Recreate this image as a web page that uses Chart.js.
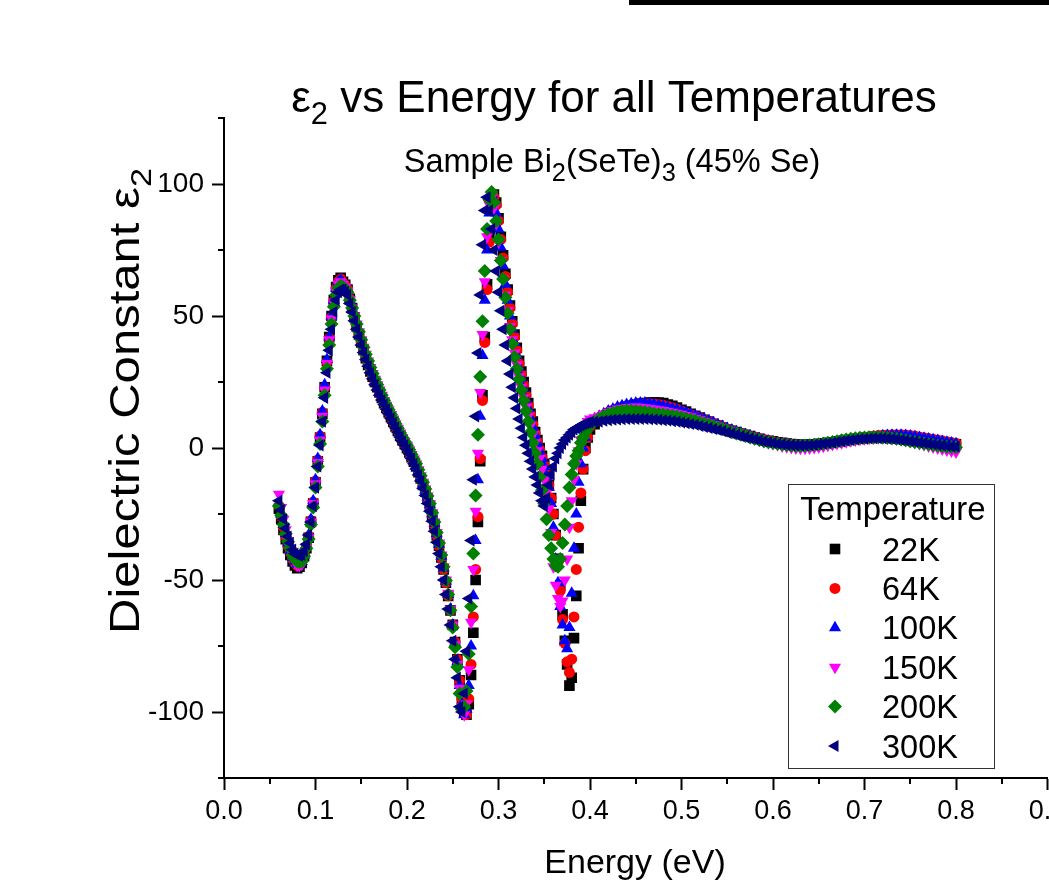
<!DOCTYPE html>
<html>
<head>
<meta charset="utf-8">
<script src="https://cdn.jsdelivr.net/npm/chart.js@4.4.0/dist/chart.umd.min.js"></script>
<style>
  html, body { margin: 0; padding: 0; background: #fff; overflow: hidden; }
  #wrap { position: relative; width: 1100px; height: 887px; }
  #bar { position: absolute; left: 629px; top: 0; width: 471px; height: 5px; background: #000; }
</style>
</head>
<body>
<div id="wrap"><canvas id="c"></canvas><div id="bar"></div></div>
<script>
/* ─── eps2 vs energy, Bi2(SeTe)3 45% Se ───────────────────────── */

// energy grid (eV), shared by every temperature
const ENERGY = [
  0.0600, 0.0625, 0.0650, 0.0675, 0.0700, 0.0725, 0.0750, 0.0775, 0.0800, 0.0825, 0.0850,
  0.0875, 0.0900, 0.0925, 0.0950, 0.0975, 0.1000, 0.1025, 0.1050, 0.1075, 0.1100, 0.1125, 0.1150, 0.1175, 0.1200, 0.1225, 0.1250, 0.1275, 0.1300,
  0.1325, 0.1350, 0.1375, 0.1400, 0.1425, 0.1450, 0.1475, 0.1500, 0.1525, 0.1550,
  0.1575, 0.1600, 0.1625, 0.1650, 0.1675, 0.1700, 0.1725, 0.1750, 0.1775, 0.1800,
  0.1825, 0.1850, 0.1875, 0.1900, 0.1925, 0.1950, 0.1975, 0.2000, 0.2025, 0.2050,
  0.2075, 0.2100, 0.2125, 0.2150, 0.2175, 0.2200, 0.2225, 0.2250, 0.2275, 0.2300,
  0.2325, 0.2350, 0.2375, 0.2400, 0.2425, 0.2450, 0.2475, 0.2500, 0.2525, 0.2550,
  0.2575, 0.2600, 0.2625, 0.2650, 0.2675, 0.2700, 0.2725, 0.2750, 0.2775, 0.2800, 0.2825, 0.2850, 0.2875, 0.2900, 0.2925, 0.2950, 0.2975, 0.3000,
  0.3025, 0.3050, 0.3075, 0.3100, 0.3125, 0.3150, 0.3175, 0.3200, 0.3225, 0.3250, 0.3275, 0.3300, 0.3325, 0.3350, 0.3375, 0.3400, 0.3425, 0.3450, 0.3475, 0.3500,
  0.3525, 0.3550, 0.3575, 0.3600, 0.3625, 0.3650, 0.3675, 0.3700, 0.3725, 0.3750, 0.3775, 0.3800, 0.3825, 0.3850, 0.3875, 0.3900, 0.3925, 0.3950, 0.3975, 0.4000,
  0.405, 0.410, 0.415, 0.420, 0.425, 0.430, 0.435, 0.440, 0.445, 0.450,
  0.455, 0.460, 0.465, 0.470, 0.475, 0.480, 0.485, 0.490, 0.495, 0.500,
  0.505, 0.510, 0.515, 0.520, 0.525, 0.530, 0.535, 0.540, 0.545, 0.550,
  0.555, 0.560, 0.565, 0.570, 0.575, 0.580, 0.585, 0.590, 0.595, 0.600,
  0.605, 0.610, 0.615, 0.620, 0.625, 0.630, 0.635, 0.640, 0.645, 0.650,
  0.655, 0.660, 0.665, 0.670, 0.675, 0.680, 0.685, 0.690, 0.695, 0.700,
  0.705, 0.710, 0.715, 0.720, 0.725, 0.730, 0.735, 0.740, 0.745, 0.750,
  0.755, 0.760, 0.765, 0.770, 0.775, 0.780, 0.785, 0.790, 0.795, 0.800
];

// eps2 per temperature, same order as ENERGY
const K22 = [
  -23, -27, -31, -34.5, -38, -40.5, -43, -44.5, -45.5, -45, -43.5,
  -41, -38, -34, -28, -21, -13, -5, 4, 13, 23, 33, 42, 50, 56, 61, 63.5, 64.5, 63,
  61.8, 60, 56.5, 53, 49.5, 46, 43, 40, 37, 34,
  31.5, 29, 27, 25, 23, 21, 19, 17, 15.2, 13.5,
  11.7, 10, 8.2, 6.5, 4.7, 3, 1.5, 0, -1.7, -3.5,
  -5.2, -7, -9.2, -11.5, -14, -16.5, -19.2, -22, -25.5, -29,
  -33, -37, -41.5, -46, -51, -56, -61.5, -67, -73.5, -80,
  -88, -95, -100, -101, -97, -86, -70, -50, -28, -5, 20, 42, 62, 80, 92, 96, 93, 87,
  80, 73, 66, 60, 54, 48, 43, 38, 33, 29, 25, 21, 17, 13, 10, 6, 3, 0, -3, -6,
  -10, -14, -19, -25, -33, -42, -52, -63, -73, -82, -90, -87, -72, -56, -38, -20, -8, 0, 4, 7,
  9, 11, 12, 13, 13.8, 14.5, 15, 15.5, 16, 16.5,
  16.8, 17, 17.2, 17.3, 17.2, 17, 16.5, 16, 15.3, 14.5,
  13.8, 13, 12.2, 11.5, 10.7, 10, 9.2, 8.5, 7.7, 7,
  6.5, 6, 5.5, 5, 4.5, 4, 3.5, 3, 2.7, 2.5,
  2.2, 2, 1.7, 1.5, 1.3, 1.2, 1.2, 1.3, 1.4, 1.6,
  1.8, 2, 2.2, 2.5, 2.7, 3, 3.2, 3.5, 3.7, 3.9,
  4, 4.2, 4.3, 4.4, 4.4, 4.4, 4.3, 4.2, 4, 3.8,
  3.5, 3.3, 3, 2.8, 2.5, 2.3, 2, 1.8, 1.6, 1.4
];
const K64 = [
  -22, -26, -30, -33.5, -37, -39.5, -42, -43.5, -44.5, -44, -43,
  -40.5, -37.5, -33.5, -27.5, -20.5, -12.5, -4.5, 4.5, 13.5, 23, 32.5, 41.5, 49.5, 55.5, 60.5, 63, 64, 62.5,
  61.5, 60, 56.5, 53, 49.5, 46, 43, 40, 37.2, 34.5,
  32, 29.5, 27.2, 25, 23, 21, 19, 17, 15.2, 13.5,
  11.7, 10, 8.2, 6.5, 4.7, 3, 1.5, 0, -1.7, -3.5,
  -5.2, -7, -9.2, -11.5, -14, -16.5, -19.2, -22, -25.5, -29,
  -33, -37, -41.5, -46, -51, -56, -61.5, -67, -73.5, -80,
  -88, -95, -100, -101, -95, -82, -64, -46, -26, -4, 18, 40, 60, 78, 90, 95, 92, 86,
  79, 72, 65, 59, 53, 47, 42, 37, 32, 28, 24, 20, 16, 12.5, 9, 5.5, 2.5, -0.5, -3.5, -6.5,
  -10, -14, -19, -25, -33, -43, -54, -65, -74, -81, -85, -80, -64, -46, -30, -17, -8, -1, 4, 8,
  10, 11.5, 12.5, 13.5, 14.3, 15, 15.5, 16, 16.3, 16.5,
  16.7, 16.8, 16.8, 16.7, 16.5, 16.2, 15.8, 15.3, 14.7, 14,
  13.3, 12.7, 12, 11.3, 10.7, 10, 9.3, 8.6, 7.9, 7.2,
  6.6, 6, 5.5, 5, 4.5, 4, 3.6, 3.2, 2.8, 2.5,
  2.1, 1.8, 1.5, 1.3, 1.1, 1, 1, 1, 1.1, 1.3,
  1.5, 1.8, 2.1, 2.4, 2.7, 3, 3.3, 3.6, 3.9, 4.1,
  4.3, 4.5, 4.7, 4.8, 4.9, 5, 5, 5, 4.9, 4.7,
  4.5, 4.2, 3.9, 3.6, 3.3, 3, 2.7, 2.4, 2.1, 1.8
];
const K100 = [
  -21, -25, -29, -32.5, -36, -39, -41.5, -43, -44, -44, -43,
  -40.5, -37, -33, -27, -20, -12, -4, 5, 14, 24, 33.5, 42, 50, 56, 60.5, 63, 63.5, 62.5,
  61.2, 59.5, 56, 52.5, 49.2, 46, 43, 40, 37.2, 34.5,
  32, 29.5, 27.2, 25, 23, 21, 19.2, 17.5, 15.7, 14,
  12.2, 10.5, 8.7, 7, 5.2, 3.5, 2, 0.5, -1.2, -3,
  -4.7, -6.5, -8.7, -11, -13.5, -16, -18.7, -21.5, -25, -28.5,
  -32.5, -36.5, -41, -45.5, -50.5, -55.5, -61, -67, -74, -81,
  -90, -97, -101, -99, -90, -75, -56, -35, -12, 12, 35, 56, 75, 89, 96, 94, 89, 83,
  76, 69, 62, 56, 50, 45, 40, 35, 30.5, 26.5, 22.5, 18.5, 15, 11.5, 8, 5, 2, -1, -4, -7,
  -10.5, -15, -21, -30, -42, -51, -60, -67, -73, -76, -68, -55, -38, -25, -13, -6, 0, 4, 8, 10,
  11, 12, 13, 14, 14.8, 15.5, 16, 16.5, 16.8, 17,
  17, 17, 16.8, 16.5, 16.2, 15.8, 15.4, 15, 14.5, 14,
  13.4, 12.8, 12.2, 11.5, 10.9, 10.2, 9.5, 8.8, 8.1, 7.4,
  6.8, 6.2, 5.6, 5, 4.5, 4, 3.5, 3, 2.6, 2.3,
  1.9, 1.6, 1.3, 1, 0.8, 0.7, 0.7, 0.7, 0.8, 1,
  1.2, 1.5, 1.7, 2, 2.3, 2.6, 2.9, 3.2, 3.5, 3.8,
  4, 4.2, 4.4, 4.6, 4.7, 4.8, 4.8, 4.8, 4.7, 4.5,
  4.3, 4, 3.7, 3.4, 3.1, 2.8, 2.5, 2.2, 1.9, 1.6
];
const K150 = [
  -17.5, -22.5, -27, -31, -35, -38, -41, -43, -44.5, -44.5, -44,
  -41.5, -38, -34, -28, -21, -13.5, -5.5, 3, 12, 22, 32, 41, 49, 55, 59.5, 62, 63, 62,
  61, 59.5, 56.2, 53, 50, 47, 44, 41, 38.2, 35.5,
  33, 30.5, 28.2, 26, 24, 22, 20, 18, 16.2, 14.5,
  12.7, 11, 9.2, 7.5, 5.7, 4, 2.5, 1, -0.7, -2.5,
  -4.2, -6, -8.2, -10.5, -13, -15.5, -18.2, -21, -24.5, -28,
  -32, -36, -40.5, -45, -50, -55, -61, -67, -74.5, -82,
  -91, -98, -101, -97, -84, -66, -46, -24, -2, 21, 43, 63, 80, 92, 95, 91, 85, 78,
  71, 64, 58, 52, 46, 41, 36, 31.5, 27, 23, 19, 15.5, 12, 8.5, 5, 2, -1, -4, -8, -12,
  -17, -23, -32, -45, -52, -57, -60, -58, -50, -42, -30, -20, -12, -6, -1, 3, 6, 8, 10, 11,
  11.5, 12, 12.8, 13.5, 14.2, 14.8, 15.1, 15.3, 15.4, 15.5,
  15.4, 15.2, 15, 14.8, 14.5, 14.2, 13.9, 13.5, 13.2, 12.8,
  12.3, 11.8, 11.3, 10.7, 10.1, 9.5, 8.9, 8.3, 7.6, 7,
  6.4, 5.8, 5.2, 4.6, 4, 3.5, 3, 2.5, 2, 1.6,
  1.2, 0.8, 0.5, 0.2, 0, -0.1, -0.1, 0, 0.2, 0.4,
  0.7, 1, 1.3, 1.7, 2, 2.4, 2.7, 3, 3.3, 3.5,
  3.7, 3.8, 3.9, 3.9, 3.8, 3.7, 3.5, 3.2, 2.9, 2.5,
  2.1, 1.7, 1.2, 0.8, 0.4, 0, -0.4, -0.8, -1.1, -1.5
];
const K200 = [
  -22, -25.5, -29, -32.5, -35.5, -38, -40.5, -42, -43, -43.2, -43,
  -41, -38, -34.5, -29, -22.5, -15, -7, 1.5, 10, 20, 30, 39, 47, 53.5, 58, 60.5, 61.5, 61,
  60.2, 59, 56, 53, 50, 47, 44, 41, 38.2, 35.5,
  33, 30.5, 28.2, 26, 24, 22, 20, 18, 16.2, 14.5,
  12.7, 11, 9.2, 7.5, 5.7, 4, 2.5, 1, -0.7, -2.5,
  -4.2, -6, -8.2, -10.5, -13, -15.5, -18.2, -21, -24.5, -28,
  -32, -36, -40.5, -45, -50.2, -55.5, -61.5, -68, -75.5, -83,
  -93, -99, -98, -92, -78, -60, -40, -18, 5, 27, 48, 67, 83, 94, 97, 93, 86, 79,
  71, 64, 57, 51, 45, 39.5, 34.5, 30, 26, 22, 18, 14, 10, 6, 2, -2, -6, -11, -16, -21,
  -27, -33, -38, -42, -44.5, -45, -42, -36, -29, -22, -15, -10, -6, -3, -1, 2, 4, 6, 7.5, 9,
  10, 11, 12, 12.8, 13.3, 13.8, 14, 14.2, 14.1, 14,
  13.8, 13.6, 13.4, 13.1, 12.9, 12.7, 12.5, 12.2, 11.9, 11.6,
  11.2, 10.8, 10.3, 9.8, 9.3, 8.8, 8.2, 7.7, 7.2, 6.6,
  6, 5.5, 5, 4.5, 4, 3.5, 3, 2.6, 2.2, 1.9,
  1.6, 1.3, 1.1, 0.9, 0.8, 0.8, 0.9, 1, 1.2, 1.4,
  1.7, 2, 2.3, 2.6, 2.9, 3.2, 3.5, 3.7, 3.9, 4,
  4.1, 4.1, 4.1, 4, 3.9, 3.7, 3.5, 3.2, 2.9, 2.6,
  2.3, 2, 1.7, 1.4, 1.1, 0.9, 0.7, 0.5, 0.4, 0.3
];
const K300 = [
  -20, -23.5, -27, -30.5, -33.5, -36, -38.5, -40, -40.5, -40.8, -40.5,
  -39, -36.5, -33, -28, -22, -15, -7, 1, 10, 19, 28.5, 37, 45, 51.5, 56, 59, 60, 60,
  59.2, 58, 54.7, 51.5, 48.2, 45, 42, 39, 36.2, 33.5,
  31, 28.5, 26.2, 24, 22, 20, 18.2, 16.5, 14.7, 13,
  11.2, 9.5, 7.7, 6, 4.2, 2.5, 1, -0.5, -2.2, -4,
  -6, -8, -10.2, -12.5, -15.2, -18, -21, -24, -27.7, -31.5,
  -35.7, -40, -45, -50, -55.5, -61, -67, -73, -80, -87,
  -98, -100, -93, -77, -57, -35, -12, 12, 36, 58, 77, 90, 95, 90, 83, 75, 67, 59,
  52, 45, 39, 33, 28, 23, 19, 15, 11, 7.5, 4, 1, -2, -5, -8, -11, -14, -17, -20, -22,
  -19, -14, -10, -7, -4, -2, 0, 1.5, 3, 4, 5, 6, 7, 7.5, 8, 8.5, 9, 9.3, 9.6, 9.8,
  9.9, 10, 10.3, 10.5, 10.7, 10.8, 10.9, 11, 11, 11,
  11, 11, 10.9, 10.8, 10.7, 10.5, 10.4, 10.2, 10, 9.7,
  9.4, 9.1, 8.8, 8.4, 8, 7.6, 7.2, 6.8, 6.4, 5.9,
  5.5, 5, 4.5, 4.1, 3.7, 3.3, 2.9, 2.5, 2.2, 1.9,
  1.6, 1.4, 1.2, 1.1, 1, 1, 1, 1.1, 1.2, 1.4,
  1.6, 1.8, 2, 2.3, 2.5, 2.8, 3, 3.2, 3.4, 3.5,
  3.6, 3.7, 3.7, 3.7, 3.6, 3.5, 3.3, 3.1, 2.9, 2.6,
  2.4, 2.1, 1.9, 1.6, 1.4, 1.2, 1, 0.8, 0.6, 0.5
];

const SERIES_NAMES = ['22K', '64K', '100K', '150K', '200K', '300K'];
const SERIES_VALUES = [K22, K64, K100, K150, K200, K300];

// axis ticks
const X_TICKS = [0, 0.1, 0.2, 0.3, 0.4, 0.5, 0.6, 0.7, 0.8, 0.9];
const X_TICK_LABELS = ['0.0', '0.1', '0.2', '0.3', '0.4', '0.5', '0.6', '0.7', '0.8', '0.9'];
const X_MINOR = [0.05, 0.15, 0.25, 0.35, 0.45, 0.55, 0.65, 0.75, 0.85];
const Y_TICKS = [-100, -50, 0, 50, 100];
const Y_TICK_LABELS = ['-100', '-50', '0', '50', '100'];
const Y_MINOR = [-125, -75, -25, 25, 75, 125];

// marker look per series (Origin default scatter set)
const STYLES = [
  { color: '#000000', shape: 'rect',     rot: 0,   r: 7.5 },
  { color: '#FF0000', shape: 'circle',   rot: 0,   r: 5.5 },
  { color: '#0000FF', shape: 'triangle', rot: 0,   r: 7   },
  { color: '#FF00FF', shape: 'triangle', rot: 180, r: 7   },
  { color: '#008000', shape: 'rectRot',  rot: 0,   r: 7   },
  { color: '#000080', shape: 'triangle', rot: -90, r: 7   }
];

const FONT = "'Liberation Sans', Arial, Helvetica, sans-serif";
const font = (s) => `${s}px ${FONT}`;

SERIES_VALUES.forEach((v, k) => {
  if (v.length !== ENERGY.length) console.error(SERIES_NAMES[k], v.length, ENERGY.length);
});

const datasets = SERIES_VALUES.map((vals, k) => ({
  label: SERIES_NAMES[k],
  data: ENERGY.map((e, i) => ({ x: e, y: vals[i] })),
  showLine: false,
  pointStyle: STYLES[k].shape,
  pointRotation: STYLES[k].rot,
  pointRadius: STYLES[k].r,
  pointHoverRadius: STYLES[k].r,
  pointBorderWidth: 0,
  backgroundColor: STYLES[k].color,
  borderColor: STYLES[k].color,
  order: SERIES_NAMES.length - 1 - k   // 300K ends up on top
}));

// text with subscripts: parts = [[text, isSub], ...]
function richWidth(ctx, parts, size, subScale) {
  let w = 0;
  parts.forEach(([t, sub]) => { ctx.font = font(sub ? size * subScale : size); w += ctx.measureText(t).width; });
  return w;
}
function drawRich(ctx, parts, x, y, size, subScale) {
  parts.forEach(([t, sub]) => {
    ctx.font = font(sub ? size * subScale : size);
    ctx.fillText(t, x, sub ? y + size * 0.27 : y);
    x += ctx.measureText(t).width;
  });
}

function marker(ctx, st, x, y) {
  ctx.fillStyle = st.color;
  ctx.strokeStyle = st.color;
  if (Chart.helpers && Chart.helpers.drawPoint) {
    Chart.helpers.drawPoint(ctx, { pointStyle: st.shape, rotation: st.rot, radius: st.r, borderWidth: 0 }, x, y);
  } else {
    ctx.fillRect(x - 5, y - 5, 10, 10);
  }
}

const overlay = {
  id: 'overlay',
  afterDraw(chart) {
    const ctx = chart.ctx;
    const xs = chart.scales.x, ys = chart.scales.y;
    const area = chart.chartArea;
    ctx.save();

    // minor ticks
    ctx.strokeStyle = '#000';
    ctx.lineWidth = 2;
    ctx.beginPath();
    X_MINOR.forEach(v => {
      const px = Math.round(xs.getPixelForValue(v));
      ctx.moveTo(px, area.bottom); ctx.lineTo(px, area.bottom + 6);
    });
    Y_MINOR.forEach(v => {
      const py = Math.round(ys.getPixelForValue(v));
      ctx.moveTo(area.left, py); ctx.lineTo(area.left - 6, py);
    });
    ctx.stroke();

    ctx.fillStyle = '#000';
    ctx.textBaseline = 'alphabetic';
    ctx.textAlign = 'left';

    // title
    let parts = [['\u03b5', 0], ['2', 1], [' vs Energy for all Temperatures', 0]];
    let w = richWidth(ctx, parts, 44, 0.7);
    drawRich(ctx, parts, 614 - w / 2, 112, 44, 0.7);

    // subtitle
    parts = [['Sample Bi', 0], ['2', 1], ['(SeTe)', 0], ['3', 1], [' (45% Se)', 0]];
    w = richWidth(ctx, parts, 32.5, 0.78);
    drawRich(ctx, parts, 612 - w / 2, 172, 32.5, 0.78);

    // x title
    ctx.font = font(34);
    ctx.textAlign = 'center';
    ctx.fillText('Energy (eV)', 635, 873);
    ctx.textAlign = 'left';

    // y title (stretched along the text like the original)
    parts = [['Dielectric Constant \u03b5', 0], ['2', 1]];
    w = richWidth(ctx, parts, 43, 0.7);
    ctx.save();
    ctx.translate(139, 401);
    ctx.rotate(-Math.PI / 2);
    ctx.scale(1.14, 1);
    drawRich(ctx, parts, -w / 2, 0, 43, 0.7);
    ctx.restore();

    // legend box
    ctx.fillStyle = '#fff';
    ctx.fillRect(788, 484, 207, 285);
    ctx.strokeStyle = '#333';
    ctx.lineWidth = 1;
    ctx.strokeRect(788.5, 484.5, 206, 284);
    ctx.fillStyle = '#000';
    ctx.font = font(33);
    ctx.textAlign = 'center';
    ctx.fillText('Temperature', 893, 520);
    ctx.textAlign = 'left';
    SERIES_NAMES.forEach((name, k) => {
      const yc = 549 + k * 39.4;
      marker(ctx, STYLES[k], 835, yc);
      ctx.fillStyle = '#000';
      ctx.font = font(32.5);
      ctx.fillText(name, 882, yc + 11.5);
    });
    ctx.restore();
  }
};

new Chart(document.getElementById('c'), {
  type: 'scatter',
  data: { datasets },
  options: {
    responsive: true,
    maintainAspectRatio: false,
    animation: false,
    devicePixelRatio: 1,
    layout: { padding: { left: 0, top: 118, right: 52.5, bottom: 0 } },
    plugins: { legend: { display: false }, tooltip: { enabled: false }, title: { display: false } },
    scales: {
      x: {
        type: 'linear', min: 0, max: 0.9,
        afterBuildTicks: s => { s.ticks = X_TICKS.map(v => ({ value: v })); },
        ticks: { callback: (v, i) => X_TICK_LABELS[i], color: '#000', font: { family: FONT, size: 27 }, padding: 5, maxRotation: 0, autoSkip: false },
        grid: { drawOnChartArea: false, tickLength: 12, tickWidth: 2, tickColor: '#000' },
        border: { color: '#000', width: 2 },
        afterFit: s => { s.height = 109; }
      },
      y: {
        type: 'linear', min: -125, max: 125,
        afterBuildTicks: s => { s.ticks = Y_TICKS.map(v => ({ value: v })); },
        ticks: { callback: (v, i) => Y_TICK_LABELS[i], color: '#000', font: { family: FONT, size: 28 }, padding: 8, autoSkip: false },
        grid: { drawOnChartArea: false, tickLength: 12, tickWidth: 2, tickColor: '#000' },
        border: { color: '#000', width: 2 },
        afterFit: s => { s.width = 224; }
      }
    }
  },
  plugins: [overlay]
});
</script>
</body>
</html>
